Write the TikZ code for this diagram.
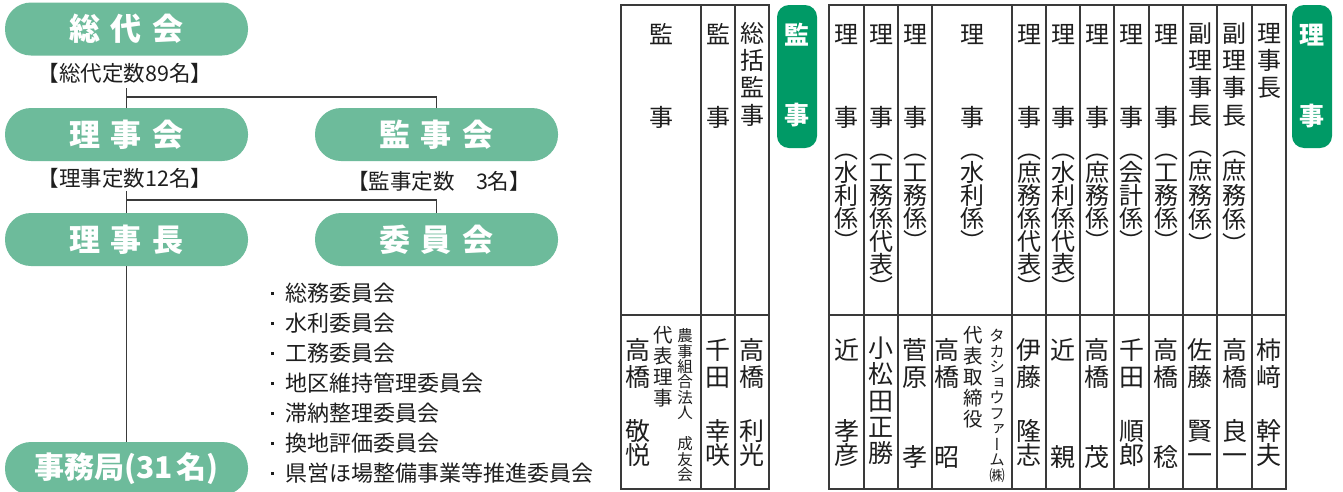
\documentclass[tikz,border=0pt]{standalone}
\usepackage{fontspec}
\newfontfamily\cjk{Noto Sans CJK JP}
\newfontfamily\cjkv{Noto Sans CJK JP}[RawFeature=+vert]
\definecolor{pill}{HTML}{6DBB9B}
\definecolor{badge}{HTML}{009A66}
\definecolor{ln}{HTML}{3A3A3A}
\definecolor{tx}{HTML}{1E1E1E}
\tikzset{
  pillbox/.style={fill=pill, rounded corners=26pt, minimum width=243pt, minimum height=53pt,
    text=white, font=\cjk\bfseries\fontsize{31}{31}\selectfont, inner sep=0pt},
  conn/.style={draw=ln, line width=1.4pt},
  lbl/.style={font=\cjk\fontsize{21.5}{21.5}\selectfont, inner sep=0pt, text height=18.9pt, text depth=2.6pt, text=tx},
  item/.style={anchor=west, font=\cjk\fontsize{22}{22}\selectfont, inner sep=0pt, text height=19.4pt, text depth=2.6pt, text=tx},
  vt/.style={font=\cjkv\fontsize{24}{24}\selectfont, inner sep=0pt, text height=21.1pt, text depth=2.9pt, text=tx},
  nm/.style={font=\cjkv\fontsize{25}{25}\selectfont, inner sep=0pt, text height=22pt, text depth=3pt, text=tx},
  sm/.style={font=\cjkv\fontsize{19.5}{19.5}\selectfont, inner sep=0pt, text height=17.2pt, text depth=2.3pt, text=tx},
  xs/.style={font=\cjkv\fontsize{15.5}{15.5}\selectfont, inner sep=0pt, text height=13.6pt, text depth=1.9pt, text=tx},
  bt/.style={font=\cjk\bfseries\fontsize{25}{25}\selectfont, inner sep=0pt, text height=22pt, text depth=3pt, text=white},
  tbl/.style={draw=ln, line width=1.3pt},
  badgebox/.style={fill=badge, rounded corners=12pt, minimum width=40pt, minimum height=143pt, inner sep=0pt},
}
\newcommand\vc[5][vt]{\foreach \ch [count=\i from 0] in {#5} {\node[#1] at (#2,{#3+\i*#4}) {\ch};}}
\begin{document}
\begin{tikzpicture}[x=1pt,y=-1pt]
\useasboundingbox (0,0) rectangle (1343,491);
\clip (0,0) rectangle (1343,491);
\fill[white] (0,0) rectangle (1343,491);

% ---------- organisation chart ----------
\node[pillbox] (sodai) at (126.5,29) {総\kern11pt代\kern11pt会};
\node[lbl] (sodailbl) at (125,73) {【総代定数89名】};
\node[pillbox] (riji) at (126.5,134.5) {理\kern11pt事\kern11pt会};
\node[lbl] (rijilbl) at (125,178) {【理事定数12名】};
\node[pillbox] (kanji) at (436.5,134.5) {監\kern11pt事\kern11pt会};
\node[lbl] (kanjilbl) at (439,181) {【監事定数　3名】};
\node[pillbox] (richo) at (126.5,239.5) {理\kern11pt事\kern11pt長};
\node[pillbox] (iin) at (436.5,239.5) {委\kern11pt員\kern11pt会};
\node[pillbox, font=\cjk\bfseries\fontsize{30}{30}\selectfont] (jimu) at (126.5,468.5) {事務局(31\kern4pt名)};

\coordinate (s1) at (126.5,88);
\coordinate (j1) at (126.5,97);
\coordinate (s2) at (126.5,191);
\coordinate (j2) at (126.5,200);
\draw[conn] (s1) -- (riji.north);
\draw[conn] (j1) -| (kanji.north);
\draw[conn] (s2) -- (richo.north);
\draw[conn] (j2) -| (iin.north);
\draw[conn] (richo.south) -- (jimu.north);

\foreach \t [count=\k from 0] in {総務委員会,水利委員会,工務委員会,地区維持管理委員会,滞納整理委員会,換地評価委員会,県営ほ場整備事業等推進委員会}{
  \fill[tx] (270.5,{293+\k*30-1.5}) rectangle ++(3,3);
  \node[item] (it\k) at (285,{293+\k*30}) {\t};
}

% ---------- table 1 (監事) ----------
\draw[tbl] (621,5) rectangle (769,489);
\foreach \xx in {701,735} \draw[tbl] (\xx,5) -- (\xx,489);
\draw[tbl] (621,315) -- (769,315);
\node[badgebox] (kb) at (797,76.5) {};
\node[bt] at (797,35) {監};
\node[bt] at (797,115) {事};

\vc{661}{34}{83}{監,事}
\vc{718}{34}{83}{監,事}
\vc{752}{33}{27.3}{総,括,監,事}

\vc[nm]{638}{350}{27}{高,橋}
\vc[nm]{638}{431}{24}{敬,悦}
\vc[sm]{663}{335}{21}{代,表,理,事}
\vc[xs]{685}{336}{15.3}{農,事,組,合,法,人}
\vc[xs]{685}{444}{15.3}{成,友,会}
\vc[nm]{718}{350}{27}{千,田}
\vc[nm]{718}{431}{24}{幸,咲}
\vc[nm]{752}{350}{27}{高,橋}
\vc[nm]{752}{431}{24}{利,光}

% ---------- table 2 (理事) ----------
\draw[tbl] (829,5) rectangle (1286,489);
\foreach \xx in {864,898,932,1012,1046,1080,1114,1149,1183,1217,1252} \draw[tbl] (\xx,5) -- (\xx,489);
\draw[tbl] (829,315) -- (1286,315);
\node[badgebox] (rb) at (1312,76.5) {};
\node[bt] at (1312,35) {理};
\node[bt] at (1312,116) {事};

% header row
\foreach \xx in {846.5,881,915,972,1029,1063,1097,1131.5,1166} {\vc{\xx}{34}{83}{理,事}}
\vc{846.5}{149}{23}{︵,水,利,係,︶}
\vc{881}{149}{23}{︵,工,務,係,代,表,︶}
\vc{915}{149}{23}{︵,工,務,係,︶}
\vc{972}{149}{23}{︵,水,利,係,︶}
\vc{1029}{149}{23}{︵,庶,務,係,代,表,︶}
\vc{1063}{149}{23}{︵,水,利,係,代,表,︶}
\vc{1097}{149}{23}{︵,庶,務,係,︶}
\vc{1131.5}{149}{23}{︵,会,計,係,︶}
\vc{1166}{149}{23}{︵,工,務,係,︶}
\vc{1200}{33}{27.3}{副,理,事,長}
\vc{1200}{146}{24.5}{︵,庶,務,係,︶}
\vc{1234.5}{33}{27.3}{副,理,事,長}
\vc{1234.5}{146}{24.5}{︵,庶,務,係,︶}
\vc{1269}{33}{27.3}{理,事,長}

% name row
\vc[nm]{846.5}{350}{27}{近}
\vc[nm]{846.5}{431}{24}{孝,彦}
\vc[nm]{881}{348}{26.3}{小,松,田,正,勝}
\vc[nm]{915}{350}{27}{菅,原}
\vc[nm]{915}{457}{24}{孝}
\vc[nm]{947}{350}{27}{高,橋}
\vc[nm]{947}{457}{24}{昭}
\vc[sm]{973}{335}{21}{代,表,取,締,役}
\vc[xs]{997}{336}{15.5}{タ,カ,シ,ョ,ウ,フ,ァ,ー,ム,㈱}
\vc[nm]{1029}{350}{27}{伊,藤}
\vc[nm]{1029}{431}{24}{隆,志}
\vc[nm]{1063}{350}{27}{近}
\vc[nm]{1063}{457}{24}{親}
\vc[nm]{1097}{350}{27}{高,橋}
\vc[nm]{1097}{457}{24}{茂}
\vc[nm]{1131.5}{350}{27}{千,田}
\vc[nm]{1131.5}{431}{24}{順,郎}
\vc[nm]{1166}{350}{27}{高,橋}
\vc[nm]{1166}{457}{24}{稔}
\vc[nm]{1200}{350}{27}{佐,藤}
\vc[nm]{1200}{431}{24}{賢,一}
\vc[nm]{1234.5}{350}{27}{高,橋}
\vc[nm]{1234.5}{431}{24}{良,一}
\vc[nm]{1269}{350}{27}{柿,﨑}
\vc[nm]{1269}{431}{24}{幹,夫}
\end{tikzpicture}
\end{document}
